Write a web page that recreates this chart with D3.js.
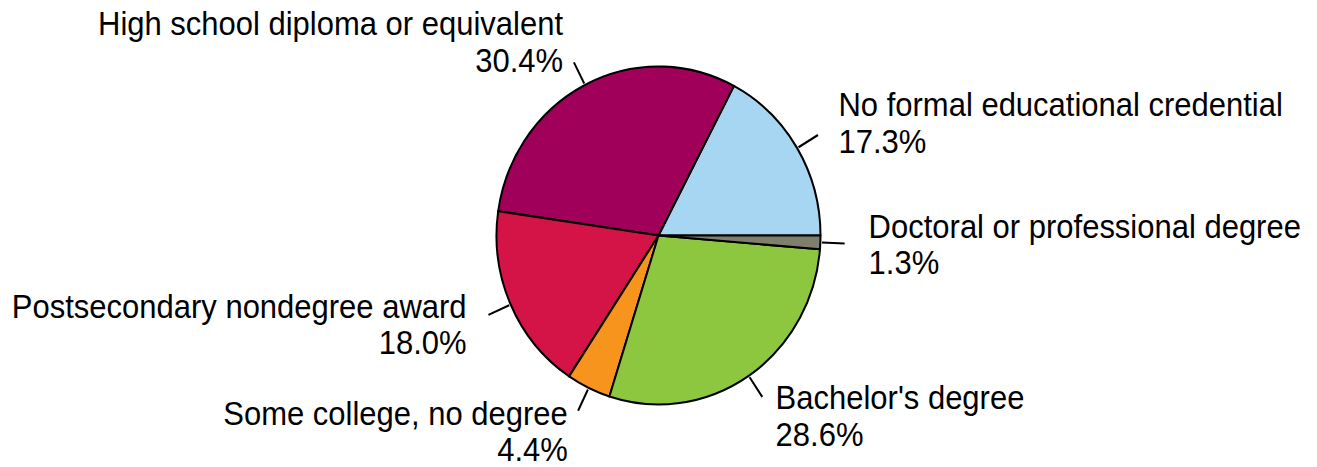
<!DOCTYPE html>
<html>
<head>
<meta charset="utf-8">
<script src="https://cdn.jsdelivr.net/npm/d3@7"></script>
<style>
  body { margin: 0; background: #fff; }
  text { font-family: "Liberation Sans", Arial, sans-serif; fill: #000; }
</style>
</head>
<body>
<div id="chart"></div>
<script>
// education shares, counterclockwise from 3 o'clock
var categories = [
  'No formal educational credential',
  'High school diploma or equivalent',
  'Postsecondary nondegree award',
  'Some college, no degree',
  "Bachelor's degree",
  'Doctoral or professional degree'
]
var shares = [17.3, 30.4, 18.0, 4.4, 28.6, 1.3]
var colors = ['#a6d6f2', '#a0005a', '#d41446', '#f7941e', '#8dc63f', '#7f7f6e']

var width = 1317
var height = 467
var r = 162
var stretchY = 1.043 // the source picture is a little taller than wide
var cx = 658.5
var cy = 235.5 / stretchY
var fontSize = 31
var lineH = 35
var capH = fontSize * 0.716

var data = categories.map((name, i) => ({name, value: shares[i], color: colors[i]}))

var pie = d3.pie()
  .value(d => d.value)
  .sort(null)
  .startAngle(Math.PI / 2)
  .endAngle(Math.PI / 2 - 2 * Math.PI)

var arc = d3.arc().innerRadius(0).outerRadius(r)

var svg = d3.select('#chart').append('svg')
  .attr('width', width)
  .attr('height', height)

var g = svg.append('g')
  .attr('transform', `scale(1, ${stretchY})`)
  .append('g')
  .attr('transform', `translate(${cx}, ${cy})`)

var arcs = pie(data)

g.selectAll('path.slice').data(arcs).enter().append('path')
  .attr('class', 'slice')
  .attr('d', arc)
  .attr('fill', d => d.data.color)
  .attr('stroke', '#000')
  .attr('stroke-width', 2)
  .attr('stroke-linejoin', 'round')

var dirOf = d => {
  var m = (d.startAngle + d.endAngle) / 2
  return [Math.sin(m), -Math.cos(m)]
}

// leader lines
g.selectAll('line.leader').data(arcs).enter().append('line')
  .attr('class', 'leader')
  .attr('x1', d => dirOf(d)[0] * r * 1.01)
  .attr('y1', d => dirOf(d)[1] * r * 1.01)
  .attr('x2', d => dirOf(d)[0] * r * 1.15)
  .attr('y2', d => dirOf(d)[1] * r * 1.15)
  .attr('stroke', '#000')
  .attr('stroke-width', 2)

// labels: two lines, boxed next to the leader end
var labels = g.selectAll('g.label').data(arcs).enter().append('g')
  .attr('class', 'label')
  .each(function(d) {
    var [dx, dy] = dirOf(d)
    var px = dx * (r * 1.15 + 24)
    var py = dy * r * 1.15 + dy * 22
    var anchor = dx >= 0 ? 'start' : 'end'
    var b1 = py - (capH + lineH) / 2 + capH
    var sel = d3.select(this)
    sel.append('text')
      .attr('x', px).attr('y', b1)
      .attr('text-anchor', anchor)
      .style('font-size', fontSize + 'px')
      .text(d.data.name)
    sel.append('text')
      .attr('x', px).attr('y', b1 + lineH)
      .attr('text-anchor', anchor)
      .style('font-size', fontSize + 'px')
      .text(d.data.value.toFixed(1) + '%')
  })
</script>
</body>
</html>
